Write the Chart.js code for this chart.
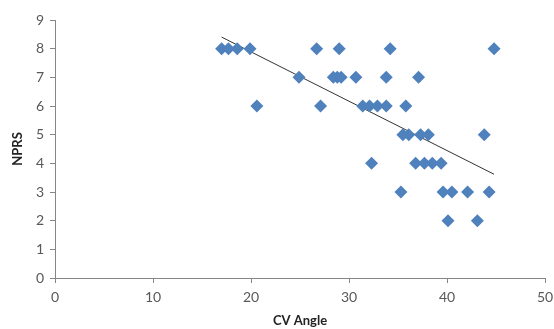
<!DOCTYPE html>
<html lang="en">
  <head>
    <meta charset="UTF-8" />
    <title>NPRS vs CV Angle</title>
    <style>
      * {
        margin: 0;
        padding: 0;
        box-sizing: border-box;
      }
      body {
        background: #ffffff;
      }
      .chartBox {
        width: 554px;
        height: 329px;
      }
    </style>
  </head>
  <body>
    <div class="chartBox">
      <canvas id="myChart"></canvas>
    </div>

    <script src="https://cdn.jsdelivr.net/npm/chart.js"></script>

    <script>
      // CV angle (x) and NPRS score (y), one entry per subject
      const cvAngle = [
        17.0, 17.7, 18.6, 19.9, 26.7, 29.0, 34.2, 44.8,
        24.9, 28.4, 28.8, 29.2, 30.7, 33.8, 37.1,
        20.6, 27.1, 31.4, 32.1, 32.9, 33.8, 35.8,
        35.5, 36.1, 37.3, 38.1, 43.8,
        32.3, 36.8, 37.7, 38.5, 39.4,
        35.3, 39.6, 40.5, 42.1, 44.3,
        40.1, 43.1,
      ];
      const nprs = [
        8, 8, 8, 8, 8, 8, 8, 8,
        7, 7, 7, 7, 7, 7, 7,
        6, 6, 6, 6, 6, 6, 6,
        5, 5, 5, 5, 5,
        4, 4, 4, 4, 4,
        3, 3, 3, 3, 3,
        2, 2,
      ];
      const xTicks = [0, 10, 20, 30, 40, 50];
      const yTicks = [0, 1, 2, 3, 4, 5, 6, 7, 8, 9];

      const points = cvAngle.map((x, i) => ({ x: x, y: nprs[i] }));

      // least squares trend line across the observed x range
      function trendLine(xs, ys) {
        const n = xs.length;
        const mx = xs.reduce((a, b) => a + b, 0) / n;
        const my = ys.reduce((a, b) => a + b, 0) / n;
        let sxy = 0;
        let sxx = 0;
        for (let i = 0; i < n; i++) {
          sxy += (xs[i] - mx) * (ys[i] - my);
          sxx += (xs[i] - mx) * (xs[i] - mx);
        }
        const slope = sxy / sxx;
        const icpt = my - slope * mx;
        const x0 = Math.min(...xs);
        const x1 = Math.max(...xs);
        return [
          { x: x0, y: icpt + slope * x0 },
          { x: x1, y: icpt + slope * x1 },
        ];
      }

      const axisColor = "#868686";
      const labelColor = "#595959";
      const fontFamily = "Lato, 'Open Sans', sans-serif";

      const ctx = document.getElementById("myChart");

      const config = {
        type: "scatter",
        data: {
          datasets: [
            {
              label: "NPRS",
              data: points,
              pointStyle: "rectRot",
              pointRadius: 6.5,
              pointHoverRadius: 6.5,
              backgroundColor: "#4f81bd",
              borderColor: "#4f81bd",
              borderWidth: 0,
            },
            {
              label: "Linear",
              type: "line",
              data: trendLine(cvAngle, nprs),
              borderColor: "#333333",
              borderWidth: 1,
              pointRadius: 0,
              fill: false,
            },
          ],
        },
        options: {
          responsive: true,
          maintainAspectRatio: false,
          animation: false,
          layout: {
            padding: { top: 20, right: 9, left: 10, bottom: 0 },
          },
          plugins: {
            legend: { display: false },
            tooltip: { enabled: false },
          },
          scales: {
            x: {
              type: "linear",
              min: 0,
              max: 50,
              afterBuildTicks: (axis) => {
                axis.ticks = xTicks.map((v) => ({ value: v }));
              },
              afterFit: (axis) => {
                axis.height = 51;
                axis.paddingRight = 0;
                axis.paddingLeft = 0;
              },
              grid: {
                drawOnChartArea: false,
                color: axisColor,
                tickLength: 5,
              },
              border: { color: axisColor },
              ticks: {
                color: labelColor,
                font: { family: fontFamily, size: 14 },
                padding: 6,
                maxRotation: 0,
              },
              title: {
                display: true,
                text: "CV Angle",
                color: "#222222",
                font: { family: fontFamily, size: 13, weight: "bold" },
                padding: { top: 4, bottom: 0 },
              },
            },
            y: {
              type: "linear",
              min: 0,
              max: 9,
              afterBuildTicks: (axis) => {
                axis.ticks = yTicks.map((v) => ({ value: v }));
              },
              afterFit: (axis) => {
                axis.width = 45;
              },
              grid: {
                drawOnChartArea: false,
                color: axisColor,
                tickLength: 5,
              },
              border: { color: axisColor },
              ticks: {
                color: labelColor,
                font: { family: fontFamily, size: 14 },
                padding: 6,
              },
              title: {
                display: true,
                text: "NPRS",
                color: "#222222",
                font: { family: fontFamily, size: 13, weight: "bold" },
                padding: { top: 0, bottom: 0 },
              },
            },
          },
        },
      };

      const myChart = new Chart(ctx, config);
    </script>
  </body>
</html>
